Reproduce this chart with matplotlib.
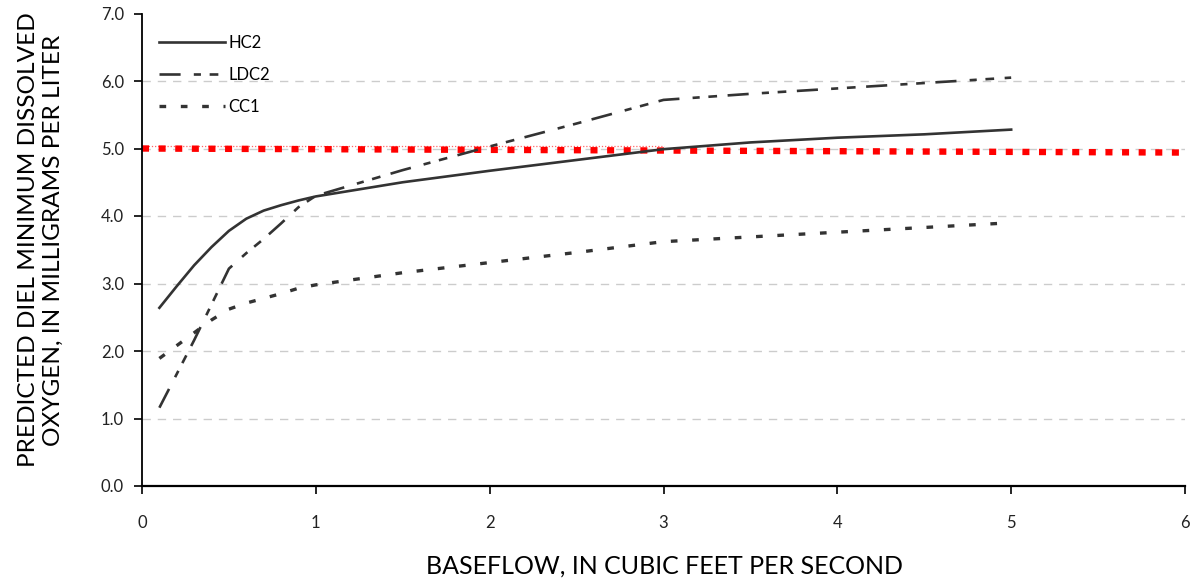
import matplotlib
matplotlib.use("Agg")
import matplotlib.pyplot as plt

plt.rcParams['font.family'] = ['Lato', 'DejaVu Sans']

# ---- data ----
hc2_x = [0.1, 0.2, 0.3, 0.4, 0.5, 0.6, 0.7, 0.8, 0.9, 1.0, 1.5, 2.0, 2.5, 3.0, 3.5, 4.0, 4.5, 5.0]
hc2_y = [2.64, 2.96, 3.27, 3.54, 3.78, 3.96, 4.08, 4.16, 4.23, 4.29, 4.50, 4.67, 4.83, 4.99, 5.09, 5.16, 5.21, 5.28]

ldc2_x = [0.1, 0.2, 0.3, 0.4, 0.5, 0.6, 0.7, 0.8, 0.9, 1.0, 1.5, 2.0, 2.5, 3.0, 3.5, 4.0, 4.5, 5.0]
ldc2_y = [1.16, 1.66, 2.16, 2.69, 3.22, 3.45, 3.66, 3.89, 4.13, 4.30, 4.68, 5.03, 5.37, 5.72, 5.81, 5.89, 5.97, 6.05]

cc1_x = [0.1, 0.2, 0.3, 0.4, 0.5, 0.6, 0.7, 0.8, 0.9, 1.0, 1.5, 2.0, 2.5, 3.0, 3.5, 4.0, 4.5, 5.0]
cc1_y = [1.89, 2.08, 2.27, 2.46, 2.62, 2.71, 2.78, 2.85, 2.93, 2.98, 3.16, 3.31, 3.46, 3.62, 3.69, 3.76, 3.83, 3.90]

threshold_x = [0, 6]
threshold_y = [5.00, 4.94]
threshold_thin_x = [0, 3]
threshold_thin_y = [5.03, 5.03]

series_labels = ["HC2", "LDC2", "CC1"]
x_ticks = [0, 1, 2, 3, 4, 5, 6]
y_ticks = [0.0, 1.0, 2.0, 3.0, 4.0, 5.0, 6.0, 7.0]

# ---- figure ----
fig = plt.figure(figsize=(11.96, 5.79), dpi=100)
ax = fig.add_axes([142/1196, 1-486/579, (1185-142)/1196, (486-13.5)/579])

dark = '#333333'
for yv in y_ticks[1:-1]:
    ax.axhline(yv, color='#cccccc', lw=1.0, ls=(0, (6, 5)), zorder=1)

ax.plot(threshold_thin_x, threshold_thin_y, color='#ff6666', lw=0.9, ls=(0, (1, 1.5)), zorder=2)
ax.plot(threshold_x, threshold_y, color='#ff0000', lw=4.6, ls=(0, (1.1, 1.5)), zorder=2,
        solid_capstyle='butt', dash_capstyle='butt')

ax.plot(hc2_x, hc2_y, color=dark, lw=1.9, ls='-', label=series_labels[0], zorder=3)
ax.plot(ldc2_x, ldc2_y, color=dark, lw=1.9, ls=(0, (8, 5, 2.7, 3.3, 3.3, 4)),
        label=series_labels[1], zorder=3)
ax.plot(cc1_x, cc1_y, color=dark, lw=2.4, ls=(0, (2.0, 4.4)), label=series_labels[2], zorder=3)

ax.set_xlim(0, 6)
ax.set_ylim(0, 7)
ax.set_xticks(x_ticks)
ax.set_xticklabels([str(v) for v in x_ticks])
ax.set_yticks(y_ticks)
ax.set_yticklabels([f"{v:.1f}" for v in y_ticks])

for s in ['top', 'right']:
    ax.spines[s].set_visible(False)
ax.spines['left'].set_linewidth(1.3)
ax.spines['bottom'].set_linewidth(1.6)
ax.tick_params(axis='both', direction='out', length=6, width=1.2, colors='black',
               labelsize=12, labelcolor='#222222')
ax.tick_params(axis='x', pad=15)
ax.tick_params(axis='y', pad=7)

fig.text(665/1196, 1-566/579, "BASEFLOW, IN CUBIC FEET PER SECOND", fontsize=18,
         ha='center', va='center', color='black')
fig.text(41/1196, 1-240/579, "PREDICTED DIEL MINIMUM DISSOLVED\nOXYGEN, IN MILLIGRAMS PER LITER",
         fontsize=17.6, ha='center', va='center', rotation=90, color='black',
         linespacing=1.25, multialignment='center')

leg = ax.legend(loc='upper left', frameon=False, fontsize=12, handlelength=4.0,
                handletextpad=0.2, labelspacing=0.95, bbox_to_anchor=(0.0, 0.99),
                borderaxespad=0.6)

fig.savefig("out.png", dpi=100, facecolor='white')
